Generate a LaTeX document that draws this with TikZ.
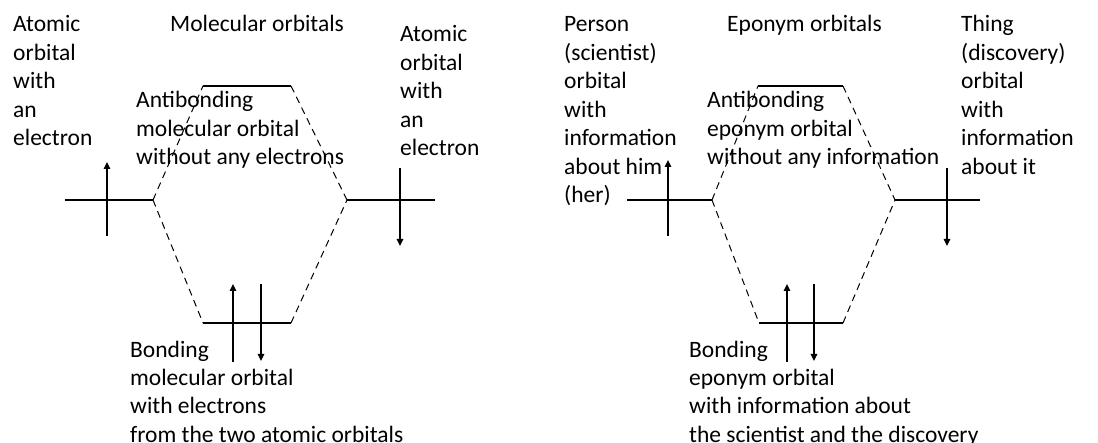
\documentclass[tikz,border=0pt]{standalone}
\usepackage{fontspec}
\setmainfont{Carlito}
\usetikzlibrary{arrows.meta}
\tikzset{
  level/.style={line width=1.3pt},
  link/.style={line width=1pt, dash pattern=on 7pt off 5pt},
  spin/.style={line width=1.3pt, -{Triangle[length=7pt,width=6.5pt]}},
  txt/.style={inner sep=0pt, anchor=base west, align=left,
    font=\fontsize{23.5}{28.5}\selectfont}
}
\begin{document}
\begin{tikzpicture}[x=1pt,y=-1pt]
    \useasboundingbox (0,0) rectangle (1098,443);

    % molecular orbitals
    \coordinate (m1) at (65,200);   \coordinate (m2) at (153,200);
    \coordinate (m3) at (347,200);  \coordinate (m4) at (435,200);
    \coordinate (m5) at (203,86);   \coordinate (m6) at (291,86);
    \coordinate (m7) at (203,323);  \coordinate (m8) at (291,323);

    \draw[level] (m1) -- (m2);
    \draw[level] (m3) -- (m4);
    \draw[level] (m5) -- (m6);
    \draw[level] (m7) -- (m8);
    \draw[link] (m2) -- (m5);
    \draw[link] (m6) -- (m3);
    \draw[link] (m2) -- (m7);
    \draw[link] (m8) -- (m3);

    \coordinate (s1) at (107,236);  \coordinate (s2) at (107,162);
    \coordinate (s3) at (400,168);  \coordinate (s4) at (400,246);
    \coordinate (s5) at (233,362);  \coordinate (s6) at (233,284);
    \coordinate (s7) at (261,284);  \coordinate (s8) at (261,361);
    \draw[spin] (s1) -- (s2);
    \draw[spin] (s3) -- (s4);
    \draw[spin] (s5) -- (s6);
    \draw[spin] (s7) -- (s8);

    % base of a node is the baseline of its last line
    \node[txt] (t1) at (13,146) {Atomic\\orbital\\with\\an\\electron};
    \node[txt] (t2) at (170,32) {Molecular orbitals};
    \node[txt] (t3) at (400,156) {Atomic\\orbital\\with\\an\\electron};
    \node[txt] (t4) at (136,165) {Antibonding\\molecular orbital\\without any electrons};
    \node[txt] (t5) at (130,442.5) {Bonding\\molecular orbital\\with electrons\\from the two atomic orbitals};

    % eponym orbitals
    \coordinate (e1) at (627,200);  \coordinate (e2) at (712,200);
    \coordinate (e3) at (895,200);  \coordinate (e4) at (980,200);
    \coordinate (e5) at (758,86);   \coordinate (e6) at (843,86);
    \coordinate (e7) at (759,323);  \coordinate (e8) at (843,323);

    \draw[level] (e1) -- (e2);
    \draw[level] (e3) -- (e4);
    \draw[level] (e5) -- (e6);
    \draw[level] (e7) -- (e8);
    \draw[link] (e2) -- (e5);
    \draw[link] (e6) -- (e3);
    \draw[link] (e2) -- (e7);
    \draw[link] (e8) -- (e3);

    \coordinate (p1) at (668,236);  \coordinate (p2) at (668,160);
    \coordinate (p3) at (947,168);  \coordinate (p4) at (947,246);
    \coordinate (p5) at (787,362);  \coordinate (p6) at (787,284);
    \coordinate (p7) at (814,284);  \coordinate (p8) at (814,361);
    \draw[spin] (p1) -- (p2);
    \draw[spin] (p3) -- (p4);
    \draw[spin] (p5) -- (p6);
    \draw[spin] (p7) -- (p8);

    \node[txt] (u1) at (564,203) {Person\\(scientist)\\orbital\\with\\information\\about him\\(her)};
    \node[txt] (u2) at (727,32) {Eponym orbitals};
    \node[txt] (u3) at (961,174.5) {Thing\\(discovery)\\orbital\\with\\information\\about it};
    \node[txt] (u4) at (707,165) {Antibonding\\eponym orbital\\without any information};
    \node[txt] (u5) at (689,442.5) {Bonding\\eponym orbital\\with information about\\the scientist and the discovery};
\end{tikzpicture}
\end{document}
